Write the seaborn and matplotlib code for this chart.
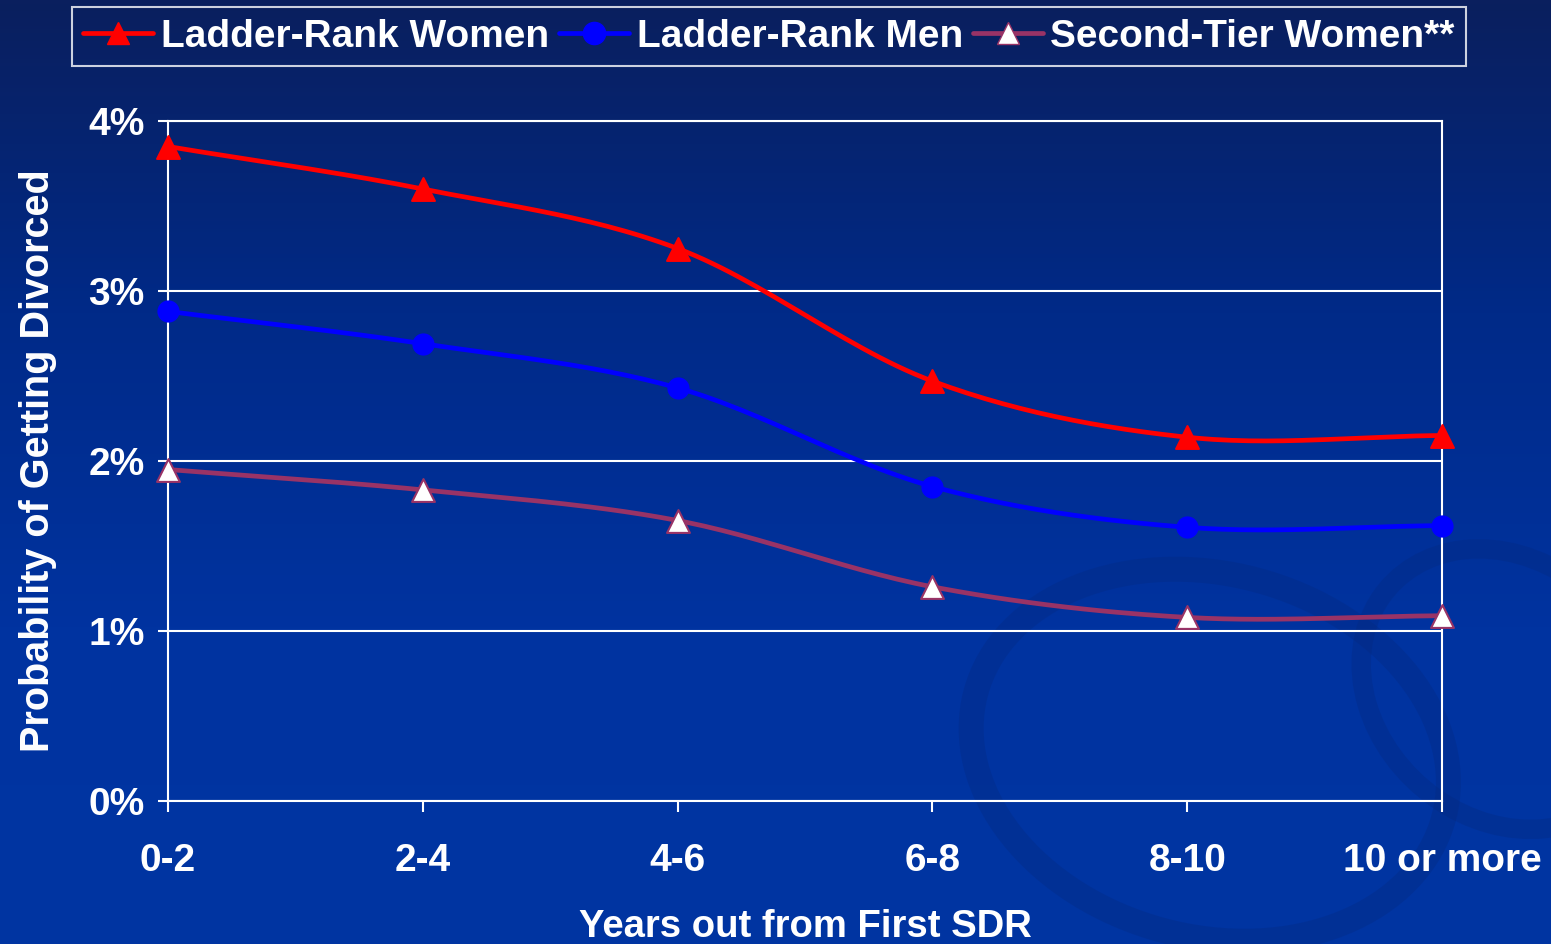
import numpy as np
import matplotlib
matplotlib.use("Agg")
import matplotlib.pyplot as plt
import seaborn as sns
from matplotlib.lines import Line2D
from matplotlib.patches import Ellipse

# data (percent)
categories = ["0-2", "2-4", "4-6", "6-8", "8-10", "10 or more"]
ladder_women = [3.85, 3.60, 3.25, 2.47, 2.14, 2.15]
ladder_men = [2.88, 2.69, 2.43, 1.85, 1.61, 1.62]
second_tier_women = [1.95, 1.83, 1.65, 1.26, 1.08, 1.09]
yticks = [0, 1, 2, 3, 4]

sns.set_theme(style="white")
plt.rcParams["font.family"] = ["Liberation Sans", "DejaVu Sans"]
plt.rcParams["font.weight"] = "bold"


def smooth(y, n=30):
    # Catmull-Rom style smoothing like Excel's smoothed line
    y = np.asarray(y, dtype=float)
    x = np.arange(len(y), dtype=float)
    px = np.concatenate([[2 * x[0] - x[1]], x, [2 * x[-1] - x[-2]]])
    py = np.concatenate([[2 * y[0] - y[1]], y, [2 * y[-1] - y[-2]]])
    xs, ys = [], []
    for i in range(1, len(px) - 2):
        t = np.linspace(0, 1, n)
        for arr, out in ((px, xs), (py, ys)):
            p0, p1, p2, p3 = arr[i - 1], arr[i], arr[i + 1], arr[i + 2]
            out.extend(0.5 * ((2 * p1) + (-p0 + p2) * t
                              + (2 * p0 - 5 * p1 + 4 * p2 - p3) * t ** 2
                              + (-p0 + 3 * p1 - 3 * p2 + p3) * t ** 3))
    return np.array(xs), np.array(ys)


fig = plt.figure(figsize=(15.51, 9.44), dpi=100)

# background gradient + faint swirl decoration
bg = fig.add_axes([0, 0, 1, 1], zorder=-10)
grad = np.linspace(0, 1, 256).reshape(-1, 1)
cmap = matplotlib.colors.LinearSegmentedColormap.from_list(
    "bg", ["#0a1f5e", "#002a88", "#0033a0", "#0035a2"])
bg.imshow(grad, aspect="auto", cmap=cmap, extent=[0, 1, 0, 1], origin="upper")
for cx, cy, w, h, ang, lw in [(0.78, 0.20, 0.30, 0.40, 15, 18), (0.97, 0.27, 0.18, 0.30, 10, 14)]:
    bg.add_patch(Ellipse((cx, cy), w, h, angle=ang, fill=False,
                         edgecolor="#05287c", lw=lw, alpha=0.3))
bg.set_xlim(0, 1)
bg.set_ylim(0, 1)
bg.axis("off")

ax = fig.add_axes([168 / 1551, 1 - 801 / 944, (1442 - 168) / 1551, (801 - 121) / 944])
ax.set_facecolor("none")

series = [
    ("Ladder-Rank Women", ladder_women, "#ff0000", "^", "#ff0000", "#ff0000"),
    ("Ladder-Rank Men", ladder_men, "#0000ff", "o", "#0000ff", "#0000ff"),
    ("Second-Tier Women**", second_tier_women, "#993366", "^", "white", "#993366"),
]

handles = []
x = np.arange(len(categories))
for name, vals, col, mk, fc, ec in series:
    sx, sy = smooth(vals)
    ax.plot(sx, sy, color=col, lw=3.4, zorder=3, solid_capstyle="round", clip_on=False)
    sns.scatterplot(x=x, y=vals, marker=mk, s=270 if mk == "^" else 210,
                    color=fc, edgecolor=ec, linewidth=1.5, ax=ax, zorder=4,
                    legend=False, clip_on=False)
    handles.append(Line2D([], [], color=col, lw=3.4, marker=mk, markersize=16,
                          markerfacecolor=fc, markeredgecolor=ec, label=name))

ax.set_xlim(0, 5)
ax.set_ylim(0, 4)
ax.set_xticks(x)
ax.set_xticklabels(categories)
ax.set_yticks(yticks)
ax.set_yticklabels([f"{v}%" for v in yticks])
ax.grid(axis="y", color="white", lw=1.5)
ax.grid(axis="x", visible=False)
for sp in ax.spines.values():
    sp.set_color("white")
    sp.set_linewidth(1.5)
ax.tick_params(axis="x", colors="white", length=8, width=1.5, direction="out",
               pad=22, labelsize=28, bottom=True)
ax.tick_params(axis="y", colors="white", length=7, width=1.5, direction="out",
               pad=10, labelsize=28, left=True)
for lab in ax.get_xticklabels() + ax.get_yticklabels():
    lab.set_fontweight("bold")

ax.set_xlabel("Years out from First SDR", color="white", fontsize=27.5,
              fontweight="bold", labelpad=22)
ax.set_ylabel("Probability of Getting Divorced", color="white", fontsize=28.5,
              fontweight="bold", labelpad=22)

leg = fig.legend(handles=handles, loc="upper center", ncol=3,
                 bbox_to_anchor=(769 / 1551, 1 - 7 / 944), frameon=True,
                 fontsize=28, handlelength=1.8, handletextpad=0.2,
                 columnspacing=0.25, borderpad=0.3, borderaxespad=0,
                 fancybox=False)
leg.get_frame().set_facecolor("none")
leg.get_frame().set_edgecolor("white")
leg.get_frame().set_linewidth(1.5)
for t in leg.get_texts():
    t.set_color("white")
    t.set_fontweight("bold")

fig.savefig("out.png", dpi=100)
